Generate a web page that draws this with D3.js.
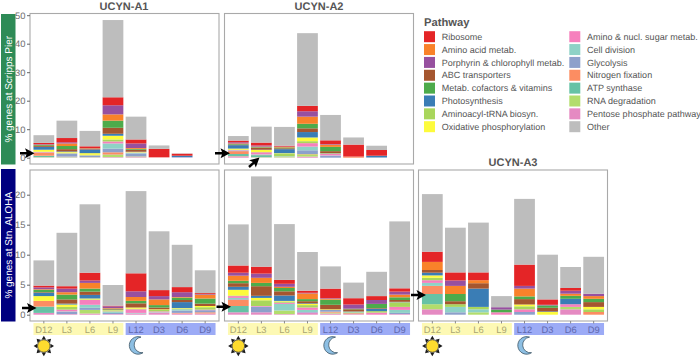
<!DOCTYPE html>
<html>
<head>
<meta charset="utf-8">
<script src="https://cdn.jsdelivr.net/npm/d3@7"></script>
<style>
  html, body { margin: 0; padding: 0; background: #fff; }
  svg { display: block; }
  text { font-family: "Liberation Sans", Arial, sans-serif; text-rendering: geometricPrecision; }
</style>
</head>
<body>
<svg id="chart" width="700" height="358"></svg>
<script>
// Timepoints along every x axis
const timepoints = ["D12", "L3", "L6", "L9", "L12", "D3", "D6", "D9"];

// Legend, as it reads column by column
const legendNames = [
  "Ribosome", "Amino acid metab.", "Porphyrin & chlorophyll metab.", "ABC transporters",
  "Metab. cofactors & vitamins", "Photosynthesis", "Aminoacyl-tRNA biosyn.", "Oxidative phosphorylation",
  "Amino & nucl. sugar metab.", "Cell division", "Glycolysis", "Nitrogen fixation",
  "ATP synthase", "RNA degradation", "Pentose phosphate pathway", "Other"
];
const legendColors = [
  "#e42527", "#f9822a", "#97509f", "#a5562f",
  "#4dab4b", "#3a7db5", "#a9d65c", "#fdfb3c",
  "#f680bd", "#8ed2c6", "#8da0cb", "#fc8d62",
  "#66c2a5", "#b2dd6c", "#e58ac2", "#bdbdbd"
];

// Stack order of the bars, top to bottom. The rows below follow this order.
const stackTopDown = [
  "Other", "Ribosome", "Porphyrin & chlorophyll metab.", "Amino acid metab.",
  "Metab. cofactors & vitamins", "ABC transporters", "Photosynthesis", "Oxidative phosphorylation",
  "Aminoacyl-tRNA biosyn.", "Amino & nucl. sugar metab.", "Cell division", "Glycolysis",
  "Nitrogen fixation", "ATP synthase", "RNA degradation", "Pentose phosphate pathway"
];

// % genes, one row per timepoint
const scrippsA1 = [
  [2.7, .4, .2, .2, .3, .3, 1.0, .7, .1, .1, 0, .1, 1.1, .5, .1, .1],
  [6.1, 1.5, .4, .9, 1.1, .8, .2, .2, .3, .1, .1, .9, .1, .1, .1, .1],
  [5.4, .7, 0, .1, .1, .2, 1.3, .6, .2, .1, .1, .4, 0, 0, .1, .1],
  [27.1, 2.8, 3.2, 2.2, 2.5, 2.1, .7, 1.3, .7, .7, 1.8, 1.3, .8, .1, .8, .2],
  [8.0, 1.4, 1.6, .3, .3, .7, .1, .1, .1, .1, .2, 1.0, .1, .1, .1, .2],
  [1.2, 2.9, 0, 0, 0, 0, 0, 0, 0, 0, 0, 0, .1, 0, 0, .1],
  [.1, .7, 0, 0, 0, 0, .5, 0, 0, 0, 0, .1, 0, 0, 0, .1]
];
const scrippsA2 = [
  [1.6, .6, .4, .2, .2, .2, 1.2, .4, .1, .1, .1, .2, 1.0, .7, .1, .5],
  [5.6, 1.0, .4, .2, .2, .7, .1, .7, .1, .7, .1, .1, .1, .7, .1, .1],
  [6.6, .3, .1, .2, .3, .3, 1.4, .1, 1.0, 0, .1, .1, 0, 0, .2, .1],
  [25.5, 1.9, 1.9, 2.5, 1.6, 1.3, 1.9, 1.3, .7, 1.2, 1.3, 1.3, .1, 0, .8, .4],
  [8.9, 1.3, .2, .8, 1.5, .7, .1, .1, .1, .5, .1, .7, 0, 0, 0, 0],
  [2.5, 4.2, 0, 0, 0, 0, 0, 0, 0, 0, 0, 0, .4, 0, 0, 0],
  [1.5, 2.0, 0, 0, 0, 0, .6, 0, 0, 0, 0, .1, 0, 0, 0, 0]
];
const alohaA1 = [
  [4.2, .3, .3, .1, .4, .1, .55, .8, 0, 0, 0, 0, .95, 1.05, 0, .3],
  [8.9, .4, .6, .4, .8, .7, .15, .4, .45, .3, .1, .35, 0, 0, 0, .1],
  [11.4, 1.3, .4, .95, .5, .55, .6, .15, .1, .8, .5, .35, 0, 0, .6, .2],
  [3.45, .1, .3, .1, .1, .1, .05, .1, .1, .05, .2, .2, 0, 0, 0, .1],
  [13.7, 3.0, .95, .65, .4, .7, 0, .2, .1, .6, .1, 0, 0, 0, 0, .2],
  [9.8, 1.0, .55, .95, .4, .3, 0, .1, .25, .15, .1, 0, 0, 0, 0, .3],
  [7.05, .85, .8, .1, .4, .35, 1.0, .1, .1, 0, .2, .4, .1, 0, 0, .2],
  [3.8, .15, .1, .65, .85, .4, 0, .2, .4, .1, 0, .35, .2, 0, 0, .2]
];
const alohaA2 = [
  [6.85, 1.2, .5, .85, .4, .6, .5, .95, .1, .3, .2, .1, 1.05, 1.05, 0, .4],
  [15.05, 1.15, .7, .85, .55, 1.6, .35, .4, .95, .1, 0, .95, 0, 0, 0, .4],
  [9.3, .65, .5, .2, .55, .7, .9, .1, .2, .2, 1.1, 0, 0, 0, .6, .1],
  [6.45, .35, .1, .95, .35, .35, .1, .2, .4, .4, .35, .1, 0, 0, 0, .35],
  [3.7, 1.6, .1, .15, .85, .75, 0, .1, 0, 0, 0, .3, .15, 0, .15, .2],
  [2.6, 1.05, .7, 0, .1, .35, .05, 0, .1, 0, .15, 0, .15, 0, 0, .1],
  [4.05, .65, .65, 0, .7, .1, .4, 0, .25, .35, 0, 0, 0, 0, 0, 0],
  [11.15, .55, .5, .45, .45, .3, .1, .1, .65, .5, .5, .2, 0, 0, 0, .1]
];
const alohaA3 = [
  [9.6, 1.7, 0, 1.35, 0, .45, .45, .4, .4, .45, .5, 0, 1.35, 1.7, .85, .9],
  [7.45, 1.35, .9, 1.35, 1.2, .5, 0, 0, .45, 0, .9, .4, 0, 0, 0, 0],
  [8.3, 1.3, 0, .5, 0, .9, 3.05, 0, .4, 0, .5, 0, 0, 0, .4, 0],
  [1.85, 0, .4, 0, .45, 0, 0, 0, 0, .4, 0, 0, 0, 0, 0, 0],
  [10.95, 3.55, .45, 1.3, .45, .9, 0, .3, .5, .45, 0, .45, 0, 0, 0, 0],
  [7.45, .9, .1, 0, .4, .6, .1, .45, 0, 0, 0, 0, 0, 0, 0, 0],
  [3.5, .45, .5, .35, .5, 0, .9, 0, 0, .45, 0, 0, 0, 0, .4, .9],
  [6.15, 0, .4, .45, .55, .8, 0, .4, .45, 0, 0, 0, .45, 0, 0, 0]
];

const scrippsTicks = [0, 10, 20, 30, 40, 50];
const alohaTicks = [0, 5, 10, 15, 20];

const PANEL_W = 189;
const TOP_ROW = { y0: 13.5, y1: 164, zero: 157.7, per: 2.85 };
const BOTTOM_ROW = { y0: 170, y1: 321, zero: 314.7, per: 6 };
const COL_X = [30, 224.5, 418.5];
const GREY_TEXT = "#6e6e6e";

const svg = d3.select("#chart");
const color = d3.scaleOrdinal().domain(legendNames).range(legendColors);
// bottom of the stack goes first
const stack = d3.stack().keys(stackTopDown.slice().reverse());

function drawPanel({ x0, row, rows, ticks, showAxis, showTime, arrows }) {
  const xScale = d3
    .scaleBand()
    .domain(timepoints)
    .range([x0, x0 + PANEL_W])
    .paddingInner(0.1)
    .paddingOuter(0.15);
  const yScale = d3
    .scaleLinear()
    .domain([0, (row.zero - row.y0) / row.per])
    .range([row.zero, row.y0]);

  const table = rows.map((values, i) => {
    const d = { time: timepoints[i] };
    stackTopDown.forEach((name, j) => { d[name] = values[j]; });
    return d;
  });

  const g = svg.append("g");

  g.selectAll("g.layer")
    .data(stack(table))
    .join("g")
    .attr("class", "layer")
    .attr("fill", d => color(d.key))
    .selectAll("rect")
    .data(d => d)
    .join("rect")
    .attr("x", d => xScale(d.data.time))
    .attr("width", xScale.bandwidth())
    .attr("y", d => yScale(d[1]))
    .attr("height", d => yScale(d[0]) - yScale(d[1]));

  g.append("rect")
    .attr("x", x0)
    .attr("y", row.y0)
    .attr("width", PANEL_W)
    .attr("height", row.y1 - row.y0)
    .attr("fill", "none")
    .attr("stroke", "#a9a9a9")
    .attr("stroke-width", 1.1);

  if (showAxis) {
    const yAxis = d3.axisLeft(yScale).tickValues(ticks).tickSize(3).tickPadding(1.5);
    const axis = g.append("g").attr("transform", `translate(${x0},0)`).call(yAxis);
    axis.select(".domain").remove();
    axis.selectAll("line").attr("stroke", "#666");
    axis.selectAll("text")
      .attr("fill", GREY_TEXT)
      .style("font-size", "9.4px");
  }

  if (showTime) drawTimeBand(g, xScale, row.y1);

  arrows.forEach(a => drawArrow(a[0], a[1], a[2], a[3]));
}

function drawTimeBand(g, xScale, y1) {
  const end = t => xScale(t) + xScale.bandwidth();
  g.append("rect")
    .attr("x", xScale("D12"))
    .attr("y", y1 + 2)
    .attr("width", end("L9") - xScale("D12"))
    .attr("height", 12)
    .attr("fill", "#fdf9b4");
  g.append("rect")
    .attr("x", xScale("L12"))
    .attr("y", y1 + 2)
    .attr("width", end("D9") - xScale("L12"))
    .attr("height", 12)
    .attr("fill", "#9cabf6");

  g.selectAll("line.tick")
    .data(timepoints)
    .join("line")
    .attr("class", "tick")
    .attr("x1", d => xScale(d) + xScale.bandwidth() / 2)
    .attr("x2", d => xScale(d) + xScale.bandwidth() / 2)
    .attr("y1", y1)
    .attr("y2", y1 + 2.5)
    .attr("stroke", "#888");

  g.selectAll("text.time")
    .data(timepoints)
    .join("text")
    .attr("class", "time")
    .attr("x", d => xScale(d) + xScale.bandwidth() / 2)
    .attr("y", y1 + 11.5)
    .attr("text-anchor", "middle")
    .attr("fill", (d, i) => (i < 4 ? "#aaa672" : "#5f68ad"))
    .style("font-size", "9.4px")
    .text(d => d);

  drawSun(xScale("D12") + xScale.bandwidth() / 2, y1 + 25);
  drawMoon(xScale("L12") + xScale.bandwidth() / 2, y1 + 24.5);
}

function drawSun(cx, cy) {
  const g = svg.append("g").attr("transform", `translate(${cx},${cy})`);
  g.selectAll("path")
    .data(d3.range(8))
    .join("path")
    .attr("d", "M-2.2,-6.6L0,-10.2L2.2,-6.6Z")
    .attr("transform", d => `rotate(${d * 45})`)
    .attr("fill", "#1c1c1c");
  g.append("circle")
    .attr("r", 6.3)
    .attr("fill", "#fedb2e")
    .attr("stroke", "#333")
    .attr("stroke-width", 0.8);
}

function drawMoon(cx, cy) {
  svg.append("path")
    .attr("transform", `translate(${cx},${cy})`)
    .attr("d", "M5,-8.4A8.8,8.8 0 1 0 7,7.2A7.4,7.4 0 0 1 5,-8.4Z")
    .attr("fill", "#8dbfe3")
    .attr("stroke", "#3d5566")
    .attr("stroke-width", 0.8);
}

function drawArrow(x1, y1, x2, y2) {
  const angle = (Math.atan2(y2 - y1, x2 - x1) * 180) / Math.PI;
  const len = Math.hypot(x2 - x1, y2 - y1);
  svg.append("path")
    .attr("transform", `translate(${x2},${y2}) rotate(${angle})`)
    .attr("d", `M${-len},-1.2L-8,-1.2L-9.5,-5L0,0L-9.5,5L-8,1.2L${-len},1.2Z`)
    .attr("fill", "#000");
}

function drawStrip(y, h, fill, label) {
  svg.append("rect")
    .attr("x", 1)
    .attr("y", y)
    .attr("width", 14.5)
    .attr("height", h)
    .attr("fill", fill);
  svg.append("text")
    .attr("transform", `translate(11.8,${y + h / 2}) rotate(-90)`)
    .attr("text-anchor", "middle")
    .attr("fill", "#fff")
    .style("font-size", "10px")
    .text(label);
}

function drawTitle(x, y, label) {
  svg.append("text")
    .attr("x", x)
    .attr("y", y)
    .attr("text-anchor", "middle")
    .attr("fill", "#555")
    .style("font-size", "11px")
    .style("font-weight", "bold")
    .text(label);
}

function drawLegend() {
  const rowY = d3.scalePoint().domain(d3.range(8)).range([36.7, 126.7]);
  const colX = [424, 569.3];

  svg.append("text")
    .attr("x", 424)
    .attr("y", 25.5)
    .attr("fill", "#555")
    .style("font-size", "11.2px")
    .style("font-weight", "bold")
    .text("Pathway");

  const items = svg.selectAll("g.key")
    .data(legendNames)
    .join("g")
    .attr("class", "key")
    .attr("transform", (d, i) => `translate(${colX[Math.floor(i / 8)]},${rowY(i % 8)})`);
  items.append("rect")
    .attr("y", -5.5)
    .attr("width", 11)
    .attr("height", 11)
    .attr("fill", d => color(d));
  items.append("text")
    .attr("x", 17.8)
    .attr("y", 3.2)
    .attr("fill", "#555")
    .style("font-size", "9px")
    .text(d => d);
}

drawStrip(14, 150.5, "#2e8b57", "% genes at Scripps Pier");
drawStrip(169, 152.5, "#00007f", "% genes at Stn. ALOHA");

drawTitle(124, 9.5, "UCYN-A1");
drawTitle(319, 9.5, "UCYN-A2");
drawTitle(513, 166, "UCYN-A3");

drawPanel({ x0: COL_X[0], row: TOP_ROW, rows: scrippsA1, ticks: scrippsTicks, showAxis: true, showTime: false, arrows: [[20, 153.3, 34.5, 153.3]] });
drawPanel({ x0: COL_X[1], row: TOP_ROW, rows: scrippsA2, ticks: scrippsTicks, showAxis: false, showTime: false, arrows: [[215, 153.3, 230, 153.3], [249, 167, 259.5, 157.5]] });
drawPanel({ x0: COL_X[0], row: BOTTOM_ROW, rows: alohaA1, ticks: alohaTicks, showAxis: true, showTime: true, arrows: [[22, 308, 36.5, 308]] });
drawPanel({ x0: COL_X[1], row: BOTTOM_ROW, rows: alohaA2, ticks: alohaTicks, showAxis: false, showTime: true, arrows: [[216.5, 306.7, 231, 306.7]] });
drawPanel({ x0: COL_X[2], row: BOTTOM_ROW, rows: alohaA3, ticks: alohaTicks, showAxis: false, showTime: true, arrows: [[411, 295, 426, 295]] });

drawLegend();
</script>
</body>
</html>
